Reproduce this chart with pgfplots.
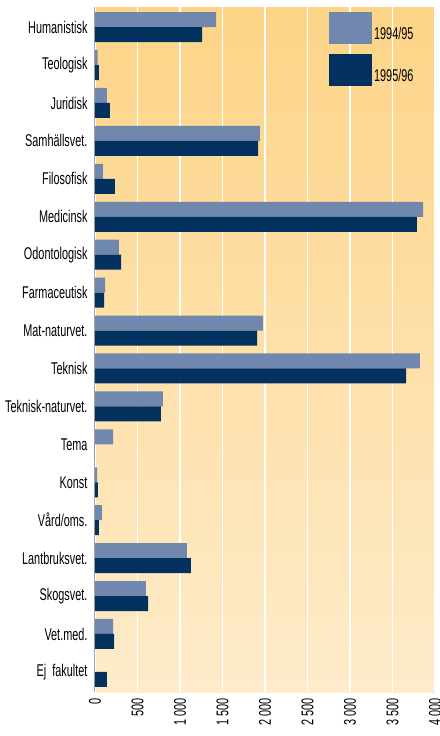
\documentclass[border=0pt]{standalone}
\usepackage{pgfplots}
\pgfplotsset{compat=1.18}
\usepackage{fontspec}
\setmainfont{Liberation Sans}[FakeStretch=0.64]

\definecolor{lightbar}{HTML}{7088AE}
\definecolor{darkbar}{HTML}{02305F}
\definecolor{bgtop}{HTML}{FDD487}
\definecolor{bgbot}{HTML}{FEEBCA}

\begin{document}
\begin{tikzpicture}[font=\fontsize{17}{19}\selectfont]
\begin{axis}[
    scale only axis,
    width=340pt, height=685pt,
    xbar=0pt, bar width=15pt,
    xmin=0, xmax=4000,
    ymin=-0.53, ymax=17.53,
    y dir=reverse,
    ytick={0,...,17},
    yticklabels={Humanistisk, Teologisk, Juridisk, Samhällsvet., Filosofisk,
        Medicinsk, Odontologisk, Farmaceutisk, Mat-naturvet., Teknisk,
        Teknisk-naturvet., Tema, Konst, Vård/oms., Lantbruksvet., Skogsvet.,
        Vet.med., Ej\ \ fakultet},
    yticklabel style={xshift=-4pt},
    xtick={0,500,...,4000},
    xticklabel style={rotate=90, anchor=east, xshift=-3pt},
    scaled x ticks=false,
    /pgf/number format/1000 sep={\ },
    /pgf/number format/assume math mode=true,
    axis line style={draw=none},
    major tick length=0pt,
    xmajorgrids,
    grid style={white, line width=1.6pt},
    extra x ticks={0},
    extra x tick labels={},
    extra x tick style={grid style={black!35, line width=1pt}},
    axis background/.style={shade, top color=bgtop, bottom color=bgbot},
    legend style={draw=none, fill=none, at={(axis description cs:0.688,0.993)},
        anchor=north west, row sep=10pt, inner sep=0pt},
    legend cell align=left,
    legend image code/.code={\fill[#1, draw=none] (0pt,-10pt) rectangle (43pt,22pt);},
]
\addplot[fill=lightbar, draw=none, bar shift=7.5pt] coordinates {
    (1424,0) (32,1) (141,2) (1941,3) (94,4) (3859,5) (282,6) (118,7)
    (1976,8) (3823,9) (800,10) (212,11) (24,12) (82,13) (1082,14)
    (600,15) (212,16) (0,17)
};
\addplot[fill=darkbar, draw=none, bar shift=-7.5pt] coordinates {
    (1259,0) (47,1) (176,2) (1918,3) (235,4) (3788,5) (306,6) (106,7)
    (1906,8) (3659,9) (776,10) (0,11) (35,12) (47,13) (1129,14)
    (624,15) (224,16) (141,17)
};
\legend{1994/95, 1995/96}
\end{axis}
\pgfresetboundingbox
\path ([xshift=-95pt,yshift=-44pt]current axis.south west)
    rectangle ([xshift=5pt,yshift=7pt]current axis.north east);
\end{tikzpicture}
\end{document}
